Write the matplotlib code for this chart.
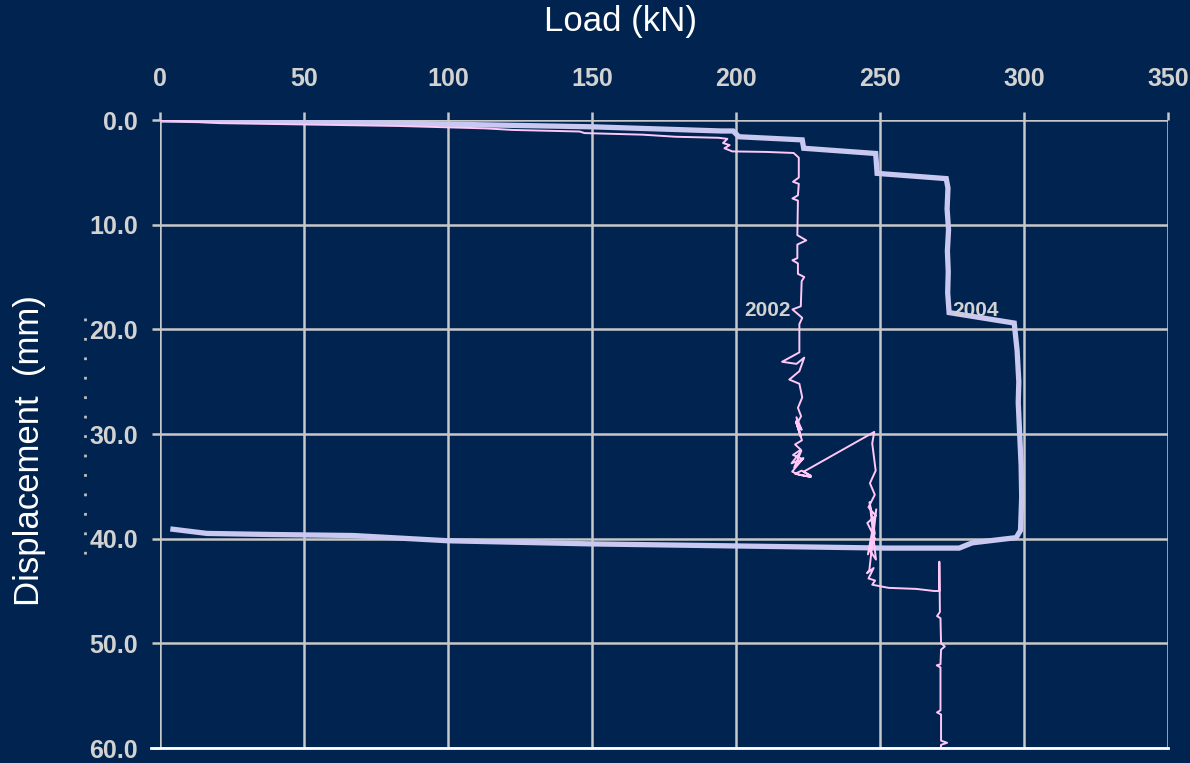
import matplotlib
matplotlib.use("Agg")
import matplotlib.pyplot as plt
from matplotlib.lines import Line2D

# ---- data ----
load_2004 = [0, 83, 100, 150, 195, 199, 201, 223, 223.5, 248.5, 249, 273, 273.6, 273.3,
             273.8, 273.4, 273.7, 273.5, 274.0, 296.6, 297.6, 298.2, 298.0, 298.5,
             299.0, 299.2, 298.8, 297.3, 282, 277.5, 252, 201, 150, 100, 67, 38, 16.3, 4.5]
disp_2004 = [0, 0.3, 0.4, 0.65, 1.05, 1.05, 1.6, 1.9, 2.7, 3.2, 5.1, 5.6, 6.5, 8.5,
             10.5, 12.5, 14.5, 16.5, 18.4, 19.4, 22, 25, 27, 30,
             33, 36, 39.2, 39.9, 40.4, 40.9, 40.9, 40.7, 40.5, 40.2, 39.7, 39.6, 39.5, 39.1]

load_2002 = [0, 20.8, 83, 113, 122.5, 145.7, 147.4, 167.5, 179, 194, 197, 195.5, 197.8, 196,
             198.7, 210.5, 220, 221.8, 221.8, 219.8, 221.8, 221.5, 219.6, 221.5, 221.3, 224.4,
             221.3, 221.3, 219.6, 221.5, 221.5, 223.7, 222.8, 222.5, 219.6, 223, 222,
             222, 216, 221, 223.7, 222, 218.5, 222, 223, 221.5, 222.6, 221.2, 222.8,
             221.0, 222.4, 220.8, 222.9,
             220.5, 222.5, 219.8, 223.2, 219.3, 222.7, 220.2, 223.4, 219.5, 222, 226,
             220.5, 222.8, 226, 223.5,
             248, 247.3, 248.5, 246.5, 248.2, 246, 248.5, 245.6, 248.3, 246.2, 248.6,
             246.4, 248.2, 245.8, 248.7, 246.3,
             245.5, 247.8, 246, 248.3, 247.3,
             253, 262.6, 268.8, 270.6, 270.6, 270.8, 269.8, 271.0, 271.2, 272.5, 271.2,
             271.0, 269.7, 271.0, 271.0, 269.8, 271.2, 271.2, 273.3, 271.2, 271.0]
disp_2002 = [0, 0.3, 0.57, 0.8, 0.95, 1.1, 1.25, 1.4, 1.6, 1.7, 1.8, 2.2, 2.4, 2.7,
             3.0, 3.05, 3.15, 3.6, 5.5, 5.9, 6.1, 7.2, 7.5, 7.7, 11.0, 11.5,
             11.9, 13.2, 13.4, 13.7, 14.7, 15.0, 15.4, 17.8, 18.1, 18.9, 19.5,
             22.2, 23.1, 23.3, 22.7, 24.0, 24.8, 25.2, 26.5, 27.5, 28.3, 29.0, 29.6,
             28.4, 30.2, 28.8, 30.6,
             31.0, 31.5, 32.0, 32.4, 32.8, 31.6, 33.2, 32.3, 33.6, 33.9, 34.1,
             33.8, 33.5, 34.0, 33.6,
             29.8, 30.9, 33.5, 34.7, 35.8, 37.0, 37.8, 38.5, 40.0, 41.0, 42.0,
             36.5, 39.5, 41.5, 37.2, 43.0,
             43.3, 42.8, 43.8, 44.0, 44.4,
             44.7, 44.8, 45.0, 45.0, 42.2, 47.0, 47.4, 47.6, 50.0, 50.3, 50.6,
             52.0, 52.1, 52.3, 56.4, 56.6, 56.8, 59.3, 59.5, 59.7, 60.5]

x_ticks = [0, 50, 100, 150, 200, 250, 300, 350]
y_ticks = [0, 10, 20, 30, 40, 50, 60]
y_tick_labels = ["0.0", "10.0", "20.0", "30.0", "40.0", "50.0", "60.0"]
series_labels = ["2002", "2004"]

BG = "#00244F"
GRID = "#C8C8C8"
TXT = "#D2D2D2"
C2004 = "#C8C8F0"
C2002 = "#FFC8F8"
NUMFONT = ["Liberation Sans", "DejaVu Sans"]

fig = plt.figure(figsize=(11.9, 7.63), dpi=100, facecolor=BG)
ax = fig.add_axes([160/1190, 1 - 748/763, (1168-160)/1190, (748-120)/763])
ax.set_facecolor(BG)

ax.plot(load_2004, disp_2004, color=C2004, lw=3.8, solid_joinstyle="miter", zorder=3)
ax.plot(load_2002, disp_2002, color=C2002, lw=1.4, zorder=4)

ax.set_xlim(0, 350)
ax.set_ylim(60, 0)
ax.set_xticks(x_ticks)
ax.set_yticks(y_ticks)
ax.set_yticklabels(y_tick_labels)
ax.xaxis.tick_top()
ax.grid(True, color=GRID, lw=1.8, zorder=1)
ax.set_axisbelow(True)
ax.tick_params(axis="x", colors=GRID, length=6, width=1.8, pad=15,
               labelcolor=TXT, labelsize=18)
ax.tick_params(axis="y", colors=GRID, length=6, width=1.8, pad=10,
               labelcolor=TXT, labelsize=18)
for lab in ax.get_xticklabels() + ax.get_yticklabels():
    lab.set_family(NUMFONT)
    lab.set_fontweight("bold")

for s in ["top", "right", "left"]:
    ax.spines[s].set_visible(False)
ax.spines["bottom"].set_color("white")
ax.spines["bottom"].set_linewidth(2)
ax.spines["bottom"].set_bounds(-3, 350)
ax.spines["bottom"].set_zorder(5)

ax.text(211, 18.2, series_labels[0], color=TXT, fontsize=15, fontweight="bold",
        family=NUMFONT, ha="center", va="center", zorder=6)
ax.text(283, 18.2, series_labels[1], color=TXT, fontsize=15, fontweight="bold",
        family=NUMFONT, ha="center", va="center", zorder=6)

fig.text(620/1190, 1 - 22/763, "Load (kN)", color="white", fontsize=25,
         family=["Liberation Sans", "DejaVu Sans"], ha="center", va="center")
fig.text(30/1190, 1 - 451/763, "Displacement  (mm)", color="white", fontsize=25,
         family=["Liberation Sans", "DejaVu Sans"], ha="center", va="center",
         rotation=90)

fig.add_artist(Line2D([85/1190, 85/1190], [1 - 318/763, 1 - 555/763],
                      color="#BEBEBE", lw=2, linestyle=(0, (1, 6))))

fig.savefig("out.png", dpi=100, facecolor=BG)
